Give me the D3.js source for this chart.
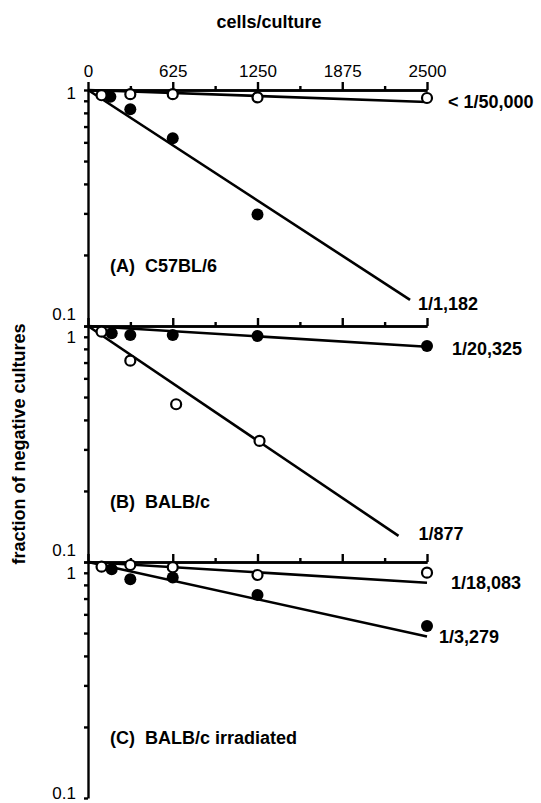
<!DOCTYPE html>
<html>
<head>
<meta charset="utf-8">
<script src="https://cdn.jsdelivr.net/npm/d3@7/dist/d3.min.js"></script>
<style>
    body { margin: 0; background: #fff; }
    svg text { font-family: "Liberation Sans", Arial, sans-serif; fill: #000; }
    .axis path, .axis line { stroke: #000; stroke-width: 2.4; }
    .axis .minor line { stroke-width: 2; }
</style>
</head>
<body>
<svg id="chart" width="541" height="803"></svg>
<script>
// x axis (cells/culture) ticks
var xMajorTicks = [0, 625, 1250, 1875, 2500];
var xMinorTicks = [312.5, 937.5, 1562.5, 2187.5];

// log y ticks, each panel runs 0.1 .. 1
var yMinorTicks = [0.1, 0.2, 0.3, 0.4, 0.5, 0.6, 0.7, 0.8, 0.9, 1];

var panelNames = ['(A)  C57BL/6', '(B)  BALB/c', '(C)  BALB/c irradiated'];

// open circles, per panel
var openX = [
    [100, 312, 625, 1250, 2500],
    [100, 312, 650, 1265],
    [100, 312, 625, 1250, 2500]
];
var openY = [
    [0.95, 0.96, 0.96, 0.93, 0.925],
    [0.946, 0.713, 0.466, 0.326],
    [0.955, 0.971, 0.95, 0.881, 0.901]
];

// filled circles, per panel
var filledX = [
    [165, 312, 625, 1250],
    [175, 312, 625, 1250, 2500],
    [175, 312, 625, 1250, 2500]
];
var filledY = [
    [0.937, 0.828, 0.624, 0.297],
    [0.931, 0.916, 0.916, 0.907, 0.823],
    [0.931, 0.845, 0.86, 0.725, 0.535]
];

// fitted lines: start and end, [cells, fraction]
var fitLines = [
    [[[0, 1], [2500, 0.89]], [[0, 1], [2375, 0.129]]],
    [[[0, 1], [2500, 0.817]], [[0, 1], [2290, 0.129]]],
    [[[0, 1], [2500, 0.817]], [[0, 1], [2500, 0.483]]]
];

// frequency label for each fitted line
var fitLabels = [
    ['< 1/50,000', '1/1,182'],
    ['1/20,325', '1/877'],
    ['1/18,083', '1/3,279']
];

(function (d3) {
    'use strict';

    var LEFT        = 88,
        RIGHT       = 427,
        TOP         = 90,
        PANEL_H     = 236,
        LABEL_SIZE  = 18,
        TICK_SIZE   = 17,
        // where each frequency label sits relative to its line end
        LABEL_SHIFT = [
            [[21, 0], [8, 4]],
            [[25, 2], [20, -2]],
            [[24, 0], [12, 0]]
        ];

    var svg = d3.select('#chart');

    var x = d3.scaleLinear()
        .domain([0, 2500])
        .range([LEFT, RIGHT]);

    svg.append('text')
        .text('cells/culture')
        .attr('x', 269)
        .attr('y', 28)
        .attr('text-anchor', 'middle')
        .attr('font-weight', 'bold')
        .attr('font-size', 18);

    svg.append('text')
        .text('fraction of negative cultures')
        .attr('transform', 'translate(25,' + (TOP + PANEL_H * 1.5) + ') rotate(-90)')
        .attr('text-anchor', 'middle')
        .attr('font-weight', 'bold')
        .attr('font-size', 18);

    /**
     * y scale of one panel
     * @param i panel index
     */
    function panelScale(i) {
        var top = TOP + PANEL_H * i;
        return d3.scaleLog()
            .domain([0.1, 1])
            .range([top + PANEL_H, top]);
    }

    /**
     * one panel: axes, fit lines, points and labels
     * @param i panel index
     */
    function drawPanel(i) {
        var top = TOP + PANEL_H * i,
            y   = panelScale(i),
            g   = svg.append('g');

        // y axis with log minor ticks
        g.append('g')
            .attr('class', 'axis')
            .attr('transform', 'translate(' + LEFT + ',0)')
            .call(d3.axisLeft(y).tickValues(yMinorTicks).tickSize(4).tickSizeOuter(0).tickFormat(''));

        // x axis line on top of each panel
        g.append('g')
            .attr('class', 'axis minor')
            .attr('transform', 'translate(0,' + top + ')')
            .call(d3.axisTop(x).tickValues(xMinorTicks).tickSize(4).tickSizeOuter(0).tickFormat(''));

        var major = g.append('g')
            .attr('class', 'axis')
            .attr('transform', 'translate(0,' + top + ')')
            .call(d3.axisTop(x).tickValues(xMajorTicks).tickSize(8).tickSizeOuter(0).tickFormat(d3.format('d')));
        major.selectAll('text')
            .attr('font-size', TICK_SIZE)
            .attr('dy', '-0.1em')
            .style('display', i === 0 ? null : 'none');

        // y labels, "1" under the line and "0.1" over the next one
        g.append('text')
            .text('1')
            .attr('x', 76)
            .attr('y', y(1) + (i === 0 ? 9 : 17))
            .attr('text-anchor', 'end')
            .attr('font-size', TICK_SIZE);
        g.append('text')
            .text('0.1')
            .attr('x', 76)
            .attr('y', y(0.1) + (i === 2 ? 1 : -6))
            .attr('text-anchor', 'end')
            .attr('font-size', TICK_SIZE);

        var line = d3.line()
            .x(function (d) { return x(d[0]); })
            .y(function (d) { return y(d[1]); });

        g.selectAll('path.fit')
            .data(fitLines[i])
            .enter()
            .append('path')
            .attr('class', 'fit')
            .attr('d', line)
            .attr('fill', 'none')
            .attr('stroke', '#000')
            .attr('stroke-width', 2.6);

        g.selectAll('circle.filled')
            .data(d3.zip(filledX[i], filledY[i]))
            .enter()
            .append('circle')
            .attr('class', 'filled')
            .attr('cx', function (d) { return x(d[0]); })
            .attr('cy', function (d) { return y(d[1]); })
            .attr('r', 6)
            .attr('fill', '#000');

        g.selectAll('circle.open')
            .data(d3.zip(openX[i], openY[i]))
            .enter()
            .append('circle')
            .attr('class', 'open')
            .attr('cx', function (d) { return x(d[0]); })
            .attr('cy', function (d) { return y(d[1]); })
            .attr('r', 5)
            .attr('fill', '#fff')
            .attr('stroke', '#000')
            .attr('stroke-width', 2.2);

        fitLabels[i].forEach(function (label, k) {
            var end = fitLines[i][k][1];
            g.append('text')
                .text(label)
                .attr('x', x(end[0]) + LABEL_SHIFT[i][k][0])
                .attr('y', y(end[1]) + LABEL_SHIFT[i][k][1])
                .attr('dy', '0.35em')
                .attr('font-weight', 'bold')
                .attr('font-size', LABEL_SIZE);
        });

        g.append('text')
            .text(panelNames[i])
            .attr('x', 110)
            .attr('y', top + 182)
            .attr('font-weight', 'bold')
            .attr('font-size', LABEL_SIZE)
            .style('white-space', 'pre');
    }

    panelNames.forEach(function (name, i) {
        drawPanel(i);
    });

})(d3);
</script>
</body>
</html>
